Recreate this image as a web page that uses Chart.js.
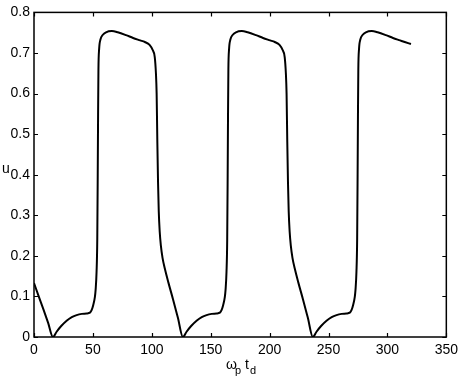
<!DOCTYPE html>
<html>
<head>
<meta charset="utf-8">
<script src="https://cdn.jsdelivr.net/npm/chart.js@4/dist/chart.umd.min.js"></script>
<style>
  html, body { margin: 0; padding: 0; background: #fff; }
  #wrap { width: 463px; height: 382px; position: relative; }
</style>
</head>
<body>
<div id="wrap"><canvas id="c" width="463" height="382"></canvas></div>
<script>
// ---- data ----
const tHead = [0, 4, 8, 12];
const uHead = [0.133, 0.1, 0.068, 0.035];

const t1 = [16.1,19.2,23.1,27.7,32.1,36.2,40.6,44.6,47.5,48.9,50.3,51.7,52.3,53.1,53.7,54.1,54.4,54.7,55.3,56.4,58.5,61.1,66.1,71.1,78.1,84.1,90.1,94.1,98.1,100.6,102.5,103.5,104.1,104.7,105.3,105.9,106.7,107.7,109.1,111.1,114.1,118.1,122.1];
const u1 = [0,0.013,0.027,0.04,0.049,0.054,0.057,0.058,0.06,0.066,0.079,0.099,0.116,0.16,0.24,0.4,0.55,0.66,0.71,0.733,0.745,0.751,0.754,0.751,0.744,0.737,0.731,0.727,0.72,0.708,0.69,0.65,0.6,0.48,0.38,0.31,0.26,0.225,0.195,0.168,0.134,0.092,0.048];

const t2 = [126.4,129.5,133.4,138.0,142.4,146.5,150.9,154.9,157.8,159.2,160.6,162.0,162.6,163.4,164.0,164.4,164.7,165.0,165.6,166.7,168.8,171.4,176.4,181.4,188.4,194.4,200.4,204.4,208.4,210.9,212.8,213.8,214.4,215.0,215.6,216.2,217.0,218.0,219.4,221.4,224.4,228.4,232.4];
const u2 = [0,0.013,0.027,0.04,0.049,0.054,0.057,0.058,0.06,0.066,0.079,0.099,0.116,0.16,0.24,0.4,0.55,0.66,0.71,0.733,0.745,0.751,0.754,0.751,0.744,0.737,0.731,0.727,0.72,0.708,0.69,0.65,0.6,0.48,0.38,0.31,0.26,0.225,0.195,0.168,0.134,0.092,0.048];

const t3 = [236.7,239.8,243.7,248.3,252.7,256.8,261.2,265.2,268.1,269.5,270.9,272.3,272.9,273.7,274.3,274.7,275.0,275.3,275.9,277.0,279.1,281.7,286.7,291.7,298.7,304.7,310.7,314.7,320];
const u3 = [0,0.013,0.027,0.04,0.049,0.054,0.057,0.058,0.06,0.066,0.079,0.099,0.116,0.16,0.24,0.4,0.55,0.66,0.71,0.733,0.745,0.751,0.754,0.751,0.744,0.737,0.731,0.727,0.722];

const xTickValues = [0, 50, 100, 150, 200, 250, 300, 350];
const yTickLabels = ['0', '0.1', '0.2', '0.3', '0.4', '0.5', '0.6', '0.7', '0.8'];

// ---- build points ----
const allT = [...tHead, ...t1, ...t2, ...t3];
const allU = [...uHead, ...u1, ...u2, ...u3];
const points = allT.map((t, i) => ({ x: t, y: allU[i] }));

const FONT = 'Liberation Sans, Arial, Helvetica, sans-serif';

const frame = {
  id: 'frame',
  afterDraw(chart) {
    const ctx = chart.ctx;
    const a = chart.chartArea;
    const xs = chart.scales.x, ys = chart.scales.y;
    ctx.save();
    ctx.strokeStyle = '#000';
    ctx.lineWidth = 1.5;
    ctx.strokeRect(a.left, a.top, a.right - a.left, a.bottom - a.top);
    const L = 4;
    ctx.beginPath();
    xs.ticks.forEach(tk => {
      const px = Math.round(xs.getPixelForValue(tk.value)) + 0.5;
      ctx.moveTo(px, a.bottom); ctx.lineTo(px, a.bottom - L);
      ctx.moveTo(px, a.top); ctx.lineTo(px, a.top + L);
    });
    ys.ticks.forEach(tk => {
      const py = Math.round(ys.getPixelForValue(tk.value)) + 0.5;
      ctx.moveTo(a.left, py); ctx.lineTo(a.left + L, py);
      ctx.moveTo(a.right, py); ctx.lineTo(a.right - L, py);
    });
    ctx.lineWidth = 1.2;
    ctx.stroke();

    // axis titles
    ctx.fillStyle = '#000';
    ctx.textBaseline = 'alphabetic';
    ctx.textAlign = 'left';
    ctx.font = '14px ' + FONT;
    ctx.fillText('\u03C9', 226, 369);
    ctx.fillText('t', 245, 369);
    ctx.font = '11px ' + FONT;
    ctx.fillText('p', 235, 374);
    ctx.fillText('d', 250, 374);
    ctx.font = '14px ' + FONT;
    ctx.fillText('u', 2, 173);
    ctx.restore();
  }
};

new Chart(document.getElementById('c'), {
  type: 'scatter',
  data: {
    datasets: [{
      data: points,
      showLine: true,
      borderColor: '#000',
      borderWidth: 2,
      pointRadius: 0,
      fill: false,
      cubicInterpolationMode: 'monotone'
    }]
  },
  options: {
    responsive: false,
    animation: false,
    devicePixelRatio: 1,
    layout: { padding: { top: 12, right: 16, left: 0, bottom: 0 } },
    plugins: { legend: { display: false }, tooltip: { enabled: false } },
    scales: {
      x: {
        type: 'linear',
        min: 0, max: 350,
        afterBuildTicks(scale) { scale.ticks = xTickValues.map(v => ({ value: v })); },
        afterFit(scale) { scale.height = 45; },
        grid: { display: false, drawTicks: false },
        border: { display: false },
        ticks: {
          autoSkip: false, maxRotation: 0, padding: 5,
          color: '#000', font: { family: FONT, size: 14 },
          callback: (v) => String(v)
        }
      },
      y: {
        type: 'linear',
        min: 0, max: 0.8,
        afterBuildTicks(scale) { scale.ticks = yTickLabels.map(s => ({ value: parseFloat(s) })); },
        afterFit(scale) { scale.width = 34; },
        grid: { display: false, drawTicks: false },
        border: { display: false },
        ticks: {
          autoSkip: false, padding: 4,
          color: '#000', font: { family: FONT, size: 14 },
          callback: (v, i) => yTickLabels[i]
        }
      }
    }
  },
  plugins: [frame]
});
</script>
</body>
</html>
